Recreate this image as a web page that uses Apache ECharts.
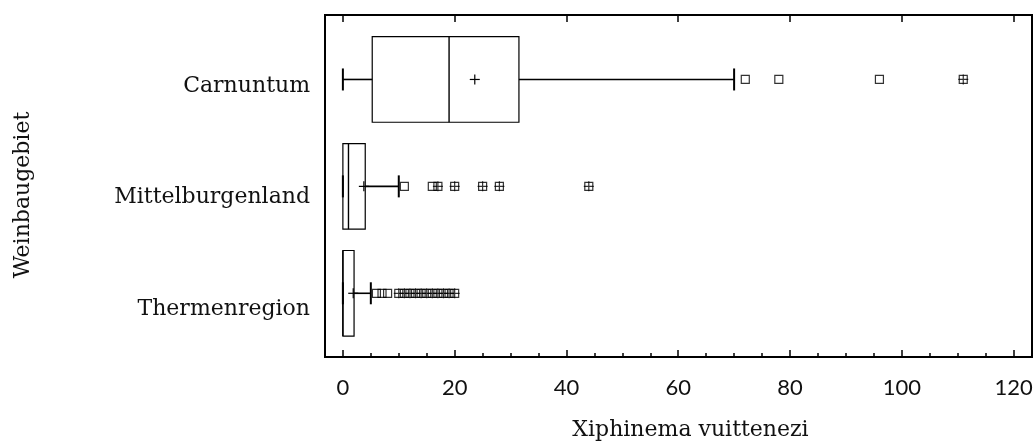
<!DOCTYPE html>
<html>
<head>
<meta charset="utf-8">
<script src="https://cdn.jsdelivr.net/npm/echarts@6/dist/echarts.min.js"></script>
<style>
  html, body { margin: 0; padding: 0; background: #fff; }
  #chart { width: 1035px; height: 445px; }
</style>
</head>
<body>
<div id="chart"></div>
<script>
// y position 0 = bottom row
const categories = ['Thermenregion', 'Mittelburgenland', 'Carnuntum']
const boxMin = [0, 0, 0]
const boxQ1 = [0, 0, 5.25]
const boxMedian = [0, 1, 19]
const boxQ3 = [2, 4, 31.5]
const boxMax = [5, 10, 70]
const boxMean = [1.85, 3.75, 23.6]
// plain squares and squares with a cross (far outliers)
const nearOutliers = [[6, 7, 8], [11, 16], [72, 78, 96]]
const farOutliers = [[10, 11, 12, 13, 14, 15, 16, 17, 18, 19, 20], [17, 20, 25, 28, 44], [111]]
const majorTicks = [0, 20, 40, 60, 80, 100, 120]
const minorTicks = [0, 5, 10, 15, 20, 25, 30, 35, 40, 45, 50, 55, 60, 65, 70, 75, 80, 85, 90, 95, 100, 105, 110, 115, 120]

const serif = 'DejaVu Serif'
const sans = 'Lato'
const ink = '#111'

const boxData = categories.map((c, i) => [i, boxMin[i], boxQ1[i], boxMedian[i], boxQ3[i], boxMax[i], boxMean[i]])
const nearData = []
const farData = []
nearOutliers.forEach((vals, i) => vals.forEach(v => nearData.push([v, i])))
farOutliers.forEach((vals, i) => vals.forEach(v => farData.push([v, i])))

function renderBox(params, api) {
  const y = api.value(0)
  const half = api.size([0, 0.8])[1] / 2
  const cap = 11
  const pt = v => api.coord([v, y])
  const lo = pt(api.value(1))
  const q1 = pt(api.value(2))
  const med = pt(api.value(3))
  const q3 = pt(api.value(4))
  const hi = pt(api.value(5))
  const mean = pt(api.value(6))
  const cy = q1[1]
  const line = (x1, y1, x2, y2, w) => ({
    type: 'line',
    shape: { x1, y1, x2, y2 },
    style: { stroke: '#000', lineWidth: w }
  })
  return {
    type: 'group',
    children: [
      line(lo[0], cy, q1[0], cy, 1.6),
      line(q3[0], cy, hi[0], cy, 1.6),
      line(lo[0], cy - cap, lo[0], cy + cap, 2),
      line(hi[0], cy - cap, hi[0], cy + cap, 2),
      {
        type: 'rect',
        shape: { x: q1[0], y: cy - half, width: q3[0] - q1[0], height: half * 2 },
        style: { fill: 'none', stroke: '#000', lineWidth: 1.2 }
      },
      line(med[0], cy - half, med[0], cy + half, 1.4),
      line(mean[0] - 5, cy, mean[0] + 5, cy, 1.2),
      line(mean[0], cy - 5, mean[0], cy + 5, 1.2)
    ]
  }
}

const xBase = {
  type: 'value',
  min: -3.2,
  max: 123.3,
  axisLine: { show: false, onZero: false },
  splitLine: { show: false }
}
const yBase = {
  type: 'value',
  position: 'left',
  axisLine: { show: false, onZero: false },
  axisTick: { show: false },
  splitLine: { show: false }
}

const chart = echarts.init(document.getElementById('chart'), null, { renderer: 'canvas' })

chart.setOption({
  backgroundColor: '#fff',
  animation: false,
  grid: {
    left: 325, right: 3, top: 15, bottom: 88,
    outerBoundsMode: 'none',
    show: true, borderColor: '#000', borderWidth: 2
  },
  xAxis: [
    {
      ...xBase,
      position: 'bottom',
      axisTick: { inside: true, length: 7, customValues: majorTicks, lineStyle: { color: '#000', width: 1.5 } },
      axisLabel: { customValues: majorTicks, margin: 20, fontFamily: sans, fontSize: 22, color: ink },
      name: 'Xiphinema vuittenezi',
      nameLocation: 'middle',
      nameGap: 62,
      nameTextStyle: { fontFamily: serif, fontSize: 22, color: ink, padding: [0, 0, 0, 24] }
    },
    {
      ...xBase,
      position: 'bottom',
      axisTick: { inside: true, length: 4, customValues: minorTicks, lineStyle: { color: '#000', width: 1.5 } },
      axisLabel: { show: false }
    },
    {
      ...xBase,
      position: 'top',
      axisTick: { inside: true, length: 7, customValues: majorTicks, lineStyle: { color: '#000', width: 1.5 } },
      axisLabel: { show: false }
    }
  ],
  yAxis: [
    {
      ...yBase,
      min: -0.596,
      max: 2.603,
      axisLabel: { show: false },
      name: 'Weinbaugebiet',
      nameLocation: 'middle',
      nameGap: 291,
      nameTextStyle: { fontFamily: serif, fontSize: 22, color: ink, padding: [0, 18, 0, 0] }
    },
    {
      // category labels sit on their own scale, slightly spread compared with the boxes
      ...yBase,
      min: -0.43,
      max: 2.637,
      axisLabel: {
        customValues: [0, 1, 2],
        formatter: v => categories[v],
        margin: 15,
        fontFamily: serif,
        fontSize: 22,
        color: ink
      }
    }
  ],
  series: [
    {
      type: 'custom',
      xAxisIndex: 0,
      yAxisIndex: 0,
      renderItem: renderBox,
      encode: { x: [1, 2, 3, 4, 5, 6], y: 0 },
      data: boxData,
      z: 2
    },
    {
      type: 'scatter',
      xAxisIndex: 0,
      yAxisIndex: 0,
      symbol: 'rect',
      symbolSize: 8,
      itemStyle: { color: 'rgba(0,0,0,0)', borderColor: '#000', borderWidth: 1.2 },
      data: nearData.concat(farData),
      z: 3
    },
    {
      type: 'scatter',
      xAxisIndex: 0,
      yAxisIndex: 0,
      symbol: 'path://M0,5L10,5M5,0L5,10',
      symbolSize: 10,
      itemStyle: { color: 'rgba(0,0,0,0)', borderColor: '#000', borderWidth: 1.2 },
      data: farData,
      z: 4
    }
  ]
})
</script>
</body>
</html>
